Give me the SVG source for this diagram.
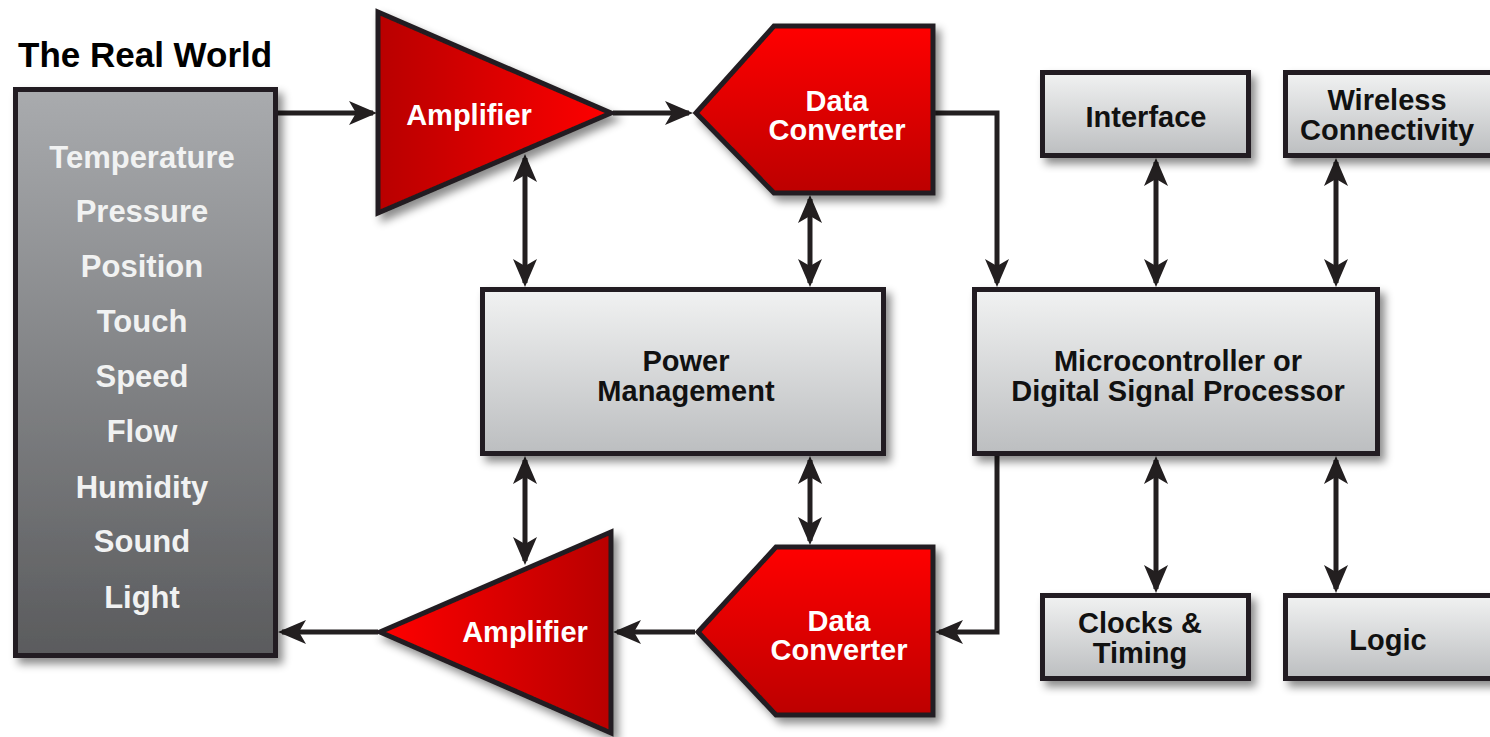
<svg xmlns="http://www.w3.org/2000/svg" width="1490" height="737" viewBox="0 0 1490 737">
  <defs>
    <linearGradient id="gWorld" x1="0" y1="0" x2="0" y2="1">
      <stop offset="0" stop-color="#a9abae"/>
      <stop offset="1" stop-color="#5a5b5d"/>
    </linearGradient>
    <linearGradient id="gBox" x1="0" y1="0" x2="0" y2="1">
      <stop offset="0" stop-color="#f1f2f2"/>
      <stop offset="1" stop-color="#bcbec0"/>
    </linearGradient>
    <linearGradient id="gAmpR" x1="0" y1="0" x2="1" y2="0">
      <stop offset="0" stop-color="#b80000"/>
      <stop offset="1" stop-color="#ff0000"/>
    </linearGradient>
    <linearGradient id="gAmpL" x1="0" y1="0" x2="1" y2="0">
      <stop offset="0" stop-color="#ff0000"/>
      <stop offset="1" stop-color="#b80000"/>
    </linearGradient>
    <linearGradient id="gConv" x1="0" y1="0" x2="0" y2="1">
      <stop offset="0" stop-color="#ff0000"/>
      <stop offset="1" stop-color="#bc0000"/>
    </linearGradient>
    <filter id="shadow" x="-10%" y="-10%" width="130%" height="130%">
      <feDropShadow dx="5" dy="6" stdDeviation="4" flood-color="#000" flood-opacity="0.45"/>
    </filter>
    <marker id="arrow" viewBox="0 0 28 24" refX="24" refY="12" markerWidth="28" markerHeight="24" markerUnits="userSpaceOnUse" orient="auto-start-reverse">
      <path d="M0,0 L28,12 L0,24 L7,12 Z" fill="#231f20"/>
    </marker>
    <style>
      .edge { stroke: #231f20; stroke-width: 5; fill: none; }
      .one { marker-end: url(#arrow); }
      .two { marker-start: url(#arrow); marker-end: url(#arrow); }
      .frame { stroke: #231f20; stroke-width: 5; stroke-linejoin: miter; filter: url(#shadow); }
      .box { fill: url(#gBox); }
      text { font-family: "Liberation Sans", Arial, sans-serif; font-weight: bold; text-anchor: middle; }
      .dark { fill: #111; font-size: 29px; }
      .light { fill: #fff; font-size: 29px; }
      .world { fill: #f1f2f2; font-size: 31px; }
    </style>
  </defs>

  <!-- heading -->
  <text x="18" y="67" style="text-anchor:start;font-size:35px;fill:#000">The Real World</text>

  <!-- connectors -->
  <g id="connectors">
    <path class="edge one" d="M278,113 H373"/>
    <path class="edge one" d="M613,113 H689"/>
    <path class="edge one" d="M935,113 H997 V283"/>
    <path class="edge two" d="M525,158 V283"/>
    <path class="edge two" d="M810,199 V283"/>
    <path class="edge two" d="M1156,162 V283"/>
    <path class="edge two" d="M1336,162 V283"/>
    <path class="edge two" d="M525,460 V561"/>
    <path class="edge two" d="M810,460 V541"/>
    <path class="edge two" d="M1156,460 V589"/>
    <path class="edge two" d="M1336,460 V589"/>
    <path class="edge one" d="M997,456 V632 H939"/>
    <path class="edge one" d="M695,632 H617"/>
    <path class="edge one" d="M378,632 H282"/>
  </g>

  <!-- sensed quantities -->
  <g id="real-world">
    <rect class="frame" x="15.5" y="89.5" width="260" height="566" fill="url(#gWorld)"/>
    <text class="world" x="142" y="168">Temperature</text>
    <text class="world" x="142" y="222">Pressure</text>
    <text class="world" x="142" y="277">Position</text>
    <text class="world" x="142" y="332">Touch</text>
    <text class="world" x="142" y="387">Speed</text>
    <text class="world" x="142" y="442">Flow</text>
    <text class="world" x="142" y="498">Humidity</text>
    <text class="world" x="142" y="552">Sound</text>
    <text class="world" x="142" y="608">Light</text>
  </g>

  <g id="amplifier-in">
    <polygon class="frame" points="378,12 611,113 378,213" fill="url(#gAmpR)"/>
    <text class="light" x="469" y="125">Amplifier</text>
  </g>

  <g id="converter-in">
    <polygon class="frame" points="696,113 774,26 933,26 933,193 774,193" fill="url(#gConv)"/>
    <text class="light" x="837" y="111">Data</text>
    <text class="light" x="837" y="140">Converter</text>
  </g>

  <g id="interface">
    <rect class="frame box" x="1042.5" y="72.5" width="206" height="83"/>
    <text class="dark" x="1146" y="127">Interface</text>
  </g>

  <g id="wireless">
    <rect class="frame box" x="1285.5" y="72.5" width="210" height="83"/>
    <text class="dark" x="1387" y="110">Wireless</text>
    <text class="dark" x="1387" y="140">Connectivity</text>
  </g>

  <g id="power-management">
    <rect class="frame box" x="482.5" y="289.5" width="401" height="164"/>
    <text class="dark" x="686" y="371">Power</text>
    <text class="dark" x="686" y="401">Management</text>
  </g>

  <g id="processor">
    <rect class="frame box" x="974.5" y="289.5" width="403" height="164"/>
    <text class="dark" x="1178" y="371">Microcontroller or</text>
    <text class="dark" x="1178" y="401">Digital Signal Processor</text>
  </g>

  <g id="amplifier-out">
    <polygon class="frame" points="611,532 380,632 611,733" fill="url(#gAmpL)"/>
    <text class="light" x="525" y="642">Amplifier</text>
  </g>

  <g id="converter-out">
    <polygon class="frame" points="698,632 776,547 933,547 933,715 776,715" fill="url(#gConv)"/>
    <text class="light" x="839" y="631">Data</text>
    <text class="light" x="839" y="660">Converter</text>
  </g>

  <g id="clocks">
    <rect class="frame box" x="1042.5" y="595.5" width="206" height="83"/>
    <text class="dark" x="1140" y="633">Clocks &amp;</text>
    <text class="dark" x="1140" y="663">Timing</text>
  </g>

  <g id="logic">
    <rect class="frame box" x="1285.5" y="595.5" width="210" height="83"/>
    <text class="dark" x="1388" y="650">Logic</text>
  </g>
</svg>
